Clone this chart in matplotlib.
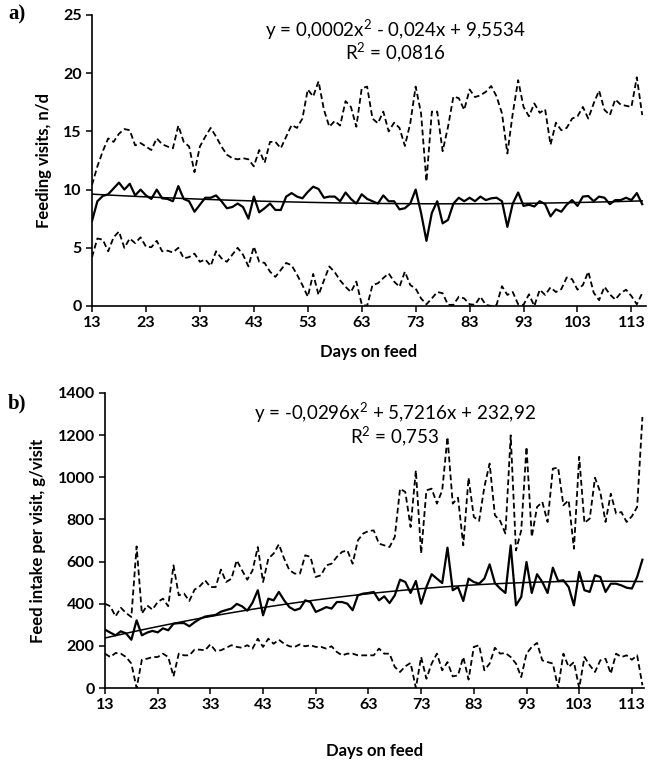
import numpy as np
import matplotlib
matplotlib.use("Agg")
import matplotlib.pyplot as plt

days = list(range(13, 116))
xticks = list(range(13, 114, 10))

# Panel a: feeding visits, n/d
visits_mean = [7.3, 9.0, 9.45, 9.6, 10.1, 10.6, 10.0, 10.5, 9.5, 10.0, 9.5, 9.2, 10.0, 9.25, 9.2, 9.0,
               10.3, 9.2, 9.0, 8.1, 8.7, 9.3, 9.3, 9.5, 9.0, 8.4, 8.5, 8.8, 8.5, 7.5, 9.4, 8.05,
               8.4, 8.8, 8.25, 8.25, 9.4, 9.7, 9.4, 9.25, 9.8, 10.25, 10.05, 9.3, 9.4, 9.4,
               9.0, 9.75, 9.2, 8.8, 9.6, 9.2, 9.0, 8.8, 9.5, 9.0, 9.0, 8.3, 8.4, 8.8, 10.0, 8.0, 5.6, 8.0, 9.0, 7.1,
               7.4, 8.8, 9.3, 9.0, 9.3, 9.0, 9.4, 9.1, 9.25, 9.3, 9.0, 6.8, 8.8, 9.75, 8.6, 8.7, 8.55, 9.0,
               8.75, 7.7, 8.3, 8.1, 8.7, 9.1, 8.6, 9.4, 9.45, 9.0, 9.4, 9.3, 8.75, 9.1, 9.1, 9.3, 9.1, 9.7,
               8.75]
visits_upper = [10.4, 12.0, 13.3, 14.4, 14.1, 14.8, 15.2, 15.1, 13.8, 14.0, 13.7, 13.4, 14.4, 13.9, 13.7, 13.55,
                15.5, 14.1, 13.7, 11.5, 13.7, 14.55, 15.3, 14.55, 13.7, 13.0, 12.7, 12.6, 12.7, 12.6, 12.0, 13.4,
                12.3, 14.1, 14.1, 13.55, 14.55, 15.55, 15.3, 16.1, 18.6, 18.0, 19.3, 16.85, 15.4, 15.9,
                15.5, 17.6, 17.1, 15.4, 18.7, 18.85, 16.1, 15.7, 16.7, 15.0, 15.75, 15.3, 13.75, 15.7, 18.85, 16.55,
                10.7, 16.7, 16.7, 13.3,
                15.4, 18.0, 17.85, 16.85, 18.6, 17.95, 18.1, 18.4, 18.9, 18.0, 16.55, 13.1, 16.55, 19.4, 17.1, 16.3,
                17.4, 16.6, 16.9, 13.85, 15.75, 15.1, 15.3, 16.1, 16.3, 17.1, 16.1, 17.4, 18.5, 16.85, 16.4, 17.75,
                17.3, 17.2, 17.1, 19.65,
                16.4]
visits_lower = [4.2, 5.8, 5.7, 4.7, 5.9, 6.4, 5.0, 5.8, 5.4, 5.9, 5.1, 5.05, 5.6, 4.7, 4.75, 4.6, 5.0, 4.1,
                4.2, 4.5, 3.8, 4.0, 3.45, 4.7, 4.1, 3.8, 4.4, 5.0, 4.4, 3.4, 5.1, 3.8,
                3.7, 2.95, 2.5, 3.1, 3.7, 3.5, 2.7, 1.8, 0.8, 2.75, 0.95, 2.2, 3.4, 2.9,
                2.2, 1.65, 1.2, 2.1, 0.15, 0.0, 1.8, 1.95, 2.4, 2.8, 2.1, 1.65, 2.95, 1.8, 1.5, 0.65, 0.15, 0.65, 1.2, 1.1,
                0.1, 0.1, 0.8, 0.65, 0.15, 0.1, 0.8, 0.1, 0.0, 0.1, 1.7, 0.95, 1.2, 0.15, 0.1, 1.0, 0.0, 1.4,
                0.95, 1.6, 1.2, 1.45, 2.45, 2.3, 1.4, 1.8, 2.95, 1.15, 0.5, 1.65, 1.0, 0.55, 1.1, 1.4, 0.85, 0.15,
                1.1]

# Panel b: feed intake per visit, g/visit
intake_mean = [277, 263, 250, 269, 259, 229, 321, 250, 263, 271, 264, 283, 274, 305, 308, 308, 293, 312,
               328, 339, 343, 347, 362, 370, 377, 399, 388, 367, 405,
               464, 345, 424, 416, 456, 416, 384, 369, 377, 416, 408, 361, 372, 384, 377, 408, 408, 400, 369,
               440, 448, 451, 456, 416, 435, 403, 440, 514, 503, 451, 508, 400, 479, 540, 519, 498, 666,
               464, 479, 413, 519, 503, 495, 519, 587, 498, 472, 451, 677, 392, 432, 598, 451, 540, 503, 451,
               571, 508, 511, 479, 392, 551, 464, 456, 535, 527, 456, 495, 495, 487, 476, 472, 527,
               609]
intake_upper = [400, 388, 340, 381, 356, 337, 672, 353, 392, 372, 408, 424, 388, 582, 440, 448, 413, 467,
                483, 511, 479, 479, 562, 503, 519, 606, 559, 514, 558,
                669, 503, 614, 638, 682, 614, 559, 543, 543, 630, 622, 527, 535, 582, 590, 622, 646, 653, 590,
                701, 733, 745, 748, 685, 677, 669, 717, 946, 930, 764, 1033, 638, 938, 946, 875, 938, 1191,
                875, 903, 677, 998, 812, 793, 954, 1065, 820, 793, 733, 1199, 653, 748, 1144, 717, 859, 883, 788,
                1041, 1046, 867, 891, 661, 1097, 783, 804, 998, 930, 788, 922, 828, 835, 788, 815, 859,
                1286]
intake_lower = [163, 147, 166, 163, 147, 116, 0, 134, 139, 147, 147, 163, 147, 55, 163, 155, 155, 182,
                182, 179, 207, 176, 179, 191, 203, 195, 191, 203, 187,
                234, 195, 234, 210, 229, 210, 198, 195, 207, 198, 203, 195, 195, 187, 198, 171, 155, 163, 163,
                155, 155, 155, 155, 187, 163, 163, 100, 76, 103, 119, 0, 147, 44, 116, 163, 84, 123,
                55, 60, 147, 40, 195, 203, 84, 116, 191, 163, 166, 147, 116, 52, 163, 195, 214,
                131, 123, 116, 0, 163, 100, 123, 0, 147, 108, 76, 131, 139, 68, 163, 147, 155, 134, 155, 13]

eq_a = ["y = 0,0002x$^2$ - 0,024x + 9,5534", "R$^2$ = 0,0816"]
eq_b = ["y = -0,0296x$^2$ + 5,7216x + 232,92", "R$^2$ = 0,753"]

plt.rcParams['mathtext.fontset'] = 'custom'
plt.rcParams['mathtext.rm'] = 'Lato'
plt.rcParams['mathtext.default'] = 'rm'

fig = plt.figure(figsize=(6.5, 7.62), dpi=100)
ax1 = fig.add_axes([92/650, 1-306/762, (646-92)/650, (306-15)/762])
ax2 = fig.add_axes([105/650, 1-688/762, (644-105)/650, (688-393)/762])

dash = (3.2, 1.8)
def draw(ax, mean, upper, lower, ylim, ystep, ylabel, xmax, eq, eqpos):
    x = np.array(days)
    ax.plot(x, upper, color='black', lw=1.3, linestyle=(0, dash))
    ax.plot(x, lower, color='black', lw=1.3, linestyle=(0, dash))
    ax.plot(x, mean, color='black', lw=1.6)
    idx = np.arange(1, len(mean) + 1)
    coef = np.polyfit(idx, mean, 2)
    ax.plot(x, np.polyval(coef, idx), color='black', lw=1.1)
    ax.set_xlim(13, xmax)
    ax.set_ylim(*ylim)
    ax.set_yticks(np.arange(ylim[0], ylim[1] + 1, ystep))
    ax.set_xticks(xticks)
    for s in ['top', 'right']:
        ax.spines[s].set_visible(False)
    for s in ['left', 'bottom']:
        ax.spines[s].set_linewidth(1.2)
    ax.tick_params(direction='out', length=4, width=1.1, labelsize=11.5)
    for lab in ax.get_xticklabels() + ax.get_yticklabels():
        lab.set_fontfamily('Lato')
        lab.set_fontweight('bold')
    ax.set_xlabel('Days on feed', fontsize=12, fontweight='bold', family='Lato', labelpad=10)
    ax.set_ylabel(ylabel, fontsize=12, fontweight='bold', family='Lato', labelpad=8)
    ax.text(eqpos[0], eqpos[1], eq[0], transform=ax.transAxes, ha='center', va='center',
            fontsize=13.5, family='Lato')
    ax.text(eqpos[0], eqpos[2], eq[1], transform=ax.transAxes, ha='center', va='center',
            fontsize=13.5, family='Lato')

draw(ax1, visits_mean, visits_upper, visits_lower, (0, 25), 5, 'Feeding visits, n/d', 115.7,
     eq_a, (0.547, 0.948, 0.873))
draw(ax2, intake_mean, intake_upper, intake_lower, (0, 1400), 200, 'Feed intake per visit, g/visit', 115.3,
     eq_b, (0.538, 0.932, 0.854))
ax2.xaxis.labelpad = 22

fig.text(8/650, 1-14/762, 'a)', fontsize=15, fontweight='bold', family='Liberation Serif', va='center')
fig.text(8/650, 1-403/762, 'b)', fontsize=15, fontweight='bold', family='Liberation Serif', va='center')

fig.savefig('out.png', dpi=100)
